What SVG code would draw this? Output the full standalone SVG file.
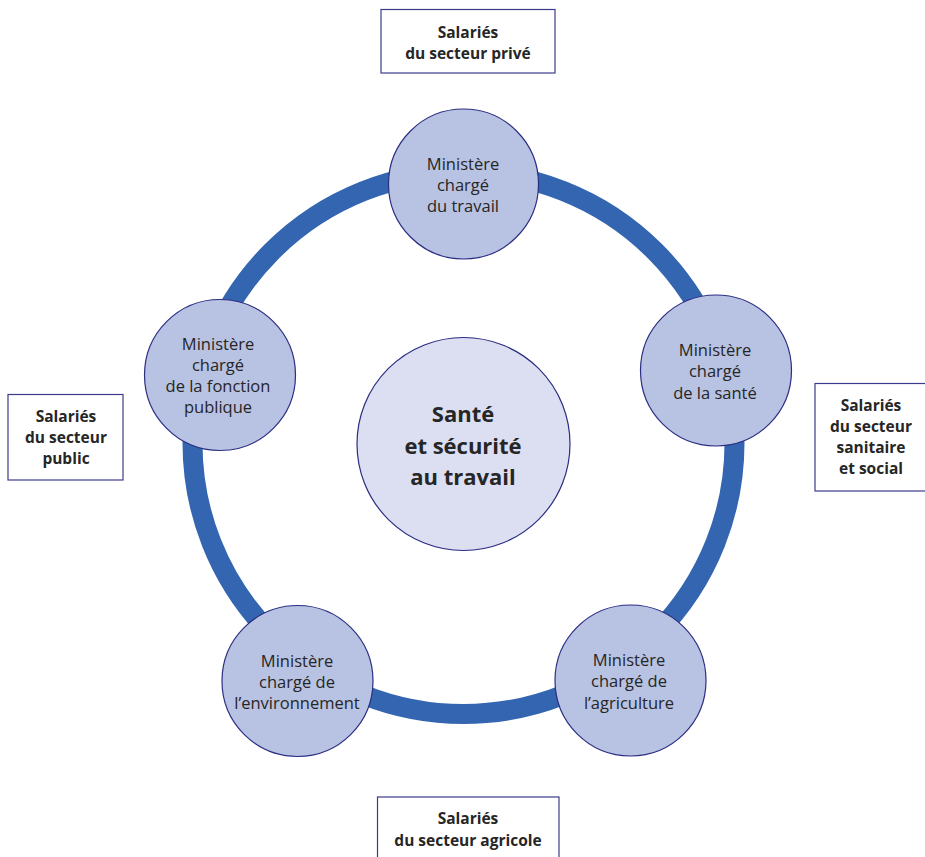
<svg xmlns="http://www.w3.org/2000/svg" width="925" height="857" viewBox="0 0 925 857">
  <style>
    .ring { fill: none; stroke: #3465b1; stroke-width: 20; }
    .min { fill: #b8c2e2; stroke: #2b2d82; stroke-width: 1.2; }
    .core { fill: #dcdff2; stroke: #2b2d82; stroke-width: 1.2; }
    .box { fill: #ffffff; stroke: #3b3b8c; stroke-width: 1.2; }
    text { font-family: "Open Sans", Lato, sans-serif; fill: #262626; text-anchor: middle; }
    .lbl { font-size: 16.5px; }
    .bl { font-size: 15.5px; font-weight: bold; }
    .big { font-size: 22px; font-weight: bold; }
  </style>
  <rect width="925" height="857" fill="#ffffff"/>

  <!-- ring linking the ministries -->
  <g id="connectors">
    <circle class="ring" cx="463.5" cy="443" r="271"/>
  </g>

  <g id="core">
    <circle class="core" cx="463.5" cy="444" r="106.5"/>
    <text class="big" x="463" y="422">Santé</text>
    <text class="big" x="463" y="453.5">et sécurité</text>
    <text class="big" x="463" y="485">au travail</text>
  </g>

  <g id="min-travail">
    <circle class="min" cx="463.5" cy="184" r="75"/>
    <text class="lbl" x="463" y="170">Ministère</text>
    <text class="lbl" x="463" y="191">chargé</text>
    <text class="lbl" x="463" y="212">du travail</text>
  </g>

  <g id="min-fonction-publique">
    <circle class="min" cx="220" cy="375" r="75.5"/>
    <text class="lbl" x="218" y="349.5">Ministère</text>
    <text class="lbl" x="218" y="370.5">chargé</text>
    <text class="lbl" x="218" y="391.5">de la fonction</text>
    <text class="lbl" x="218" y="412.5">publique</text>
  </g>

  <g id="min-sante">
    <circle class="min" cx="716" cy="370.5" r="75.5"/>
    <text class="lbl" x="715" y="356">Ministère</text>
    <text class="lbl" x="715" y="377">chargé</text>
    <text class="lbl" x="715" y="398.5">de la santé</text>
  </g>

  <g id="min-environnement">
    <circle class="min" cx="297.5" cy="681" r="75.5"/>
    <text class="lbl" x="297" y="667">Ministère</text>
    <text class="lbl" x="297" y="688">chargé de</text>
    <text class="lbl" x="297" y="709">l’environnement</text>
  </g>

  <g id="min-agriculture">
    <circle class="min" cx="630.5" cy="680.5" r="75.5"/>
    <text class="lbl" x="629" y="666">Ministère</text>
    <text class="lbl" x="629" y="687">chargé de</text>
    <text class="lbl" x="629" y="708.5">l’agriculture</text>
  </g>

  <g id="sal-prive">
    <rect class="box" x="381" y="9.5" width="174" height="63.5"/>
    <text class="bl" x="468" y="37.5">Salariés</text>
    <text class="bl" x="468" y="58.5">du secteur privé</text>
  </g>

  <g id="sal-public">
    <rect class="box" x="8" y="394.5" width="115" height="85.5"/>
    <text class="bl" x="66" y="422">Salariés</text>
    <text class="bl" x="66" y="443">du secteur</text>
    <text class="bl" x="66" y="463.5">public</text>
  </g>

  <g id="sal-sanitaire">
    <rect class="box" x="815" y="383.5" width="115" height="107.5"/>
    <text class="bl" x="871" y="411">Salariés</text>
    <text class="bl" x="871" y="432">du secteur</text>
    <text class="bl" x="871" y="453">sanitaire</text>
    <text class="bl" x="871" y="474">et social</text>
  </g>

  <g id="sal-agricole">
    <rect class="box" x="377.5" y="797" width="181.5" height="70"/>
    <text class="bl" x="468" y="824">Salariés</text>
    <text class="bl" x="468" y="846">du secteur agricole</text>
  </g>
</svg>
